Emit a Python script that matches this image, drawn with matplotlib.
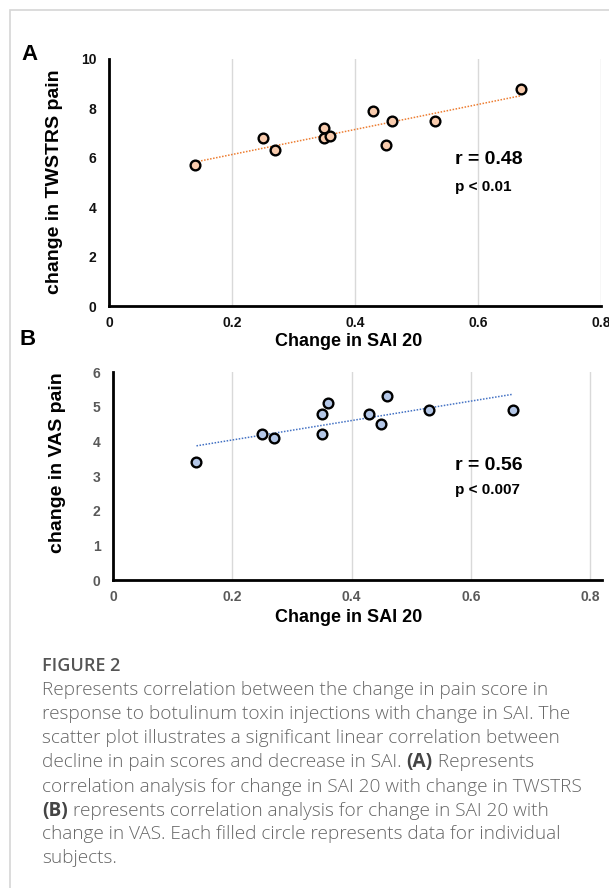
import numpy as np
import matplotlib.pyplot as plt
from matplotlib.patches import Rectangle

# data
sai_change = np.array([0.14, 0.25, 0.27, 0.35, 0.35, 0.36, 0.43, 0.45, 0.46, 0.53, 0.67])
twstrs_change = np.array([5.7, 6.8, 6.3, 7.2, 6.8, 6.9, 7.9, 6.5, 7.5, 7.5, 8.8])
vas_change = np.array([3.4, 4.2, 4.1, 4.2, 4.8, 5.1, 4.8, 4.5, 5.3, 4.9, 4.9])
x_ticks = [0, 0.2, 0.4, 0.6, 0.8]
x_ticklabels = ['0', '0.2', '0.4', '0.6', '0.8']
twstrs_ticks = [0, 2, 4, 6, 8, 10]
vas_ticks = [0, 1, 2, 3, 4, 5, 6]

W, H = 609, 888
def fx(px): return px / W
def fy(py): return 1 - py / H

plt.rcParams['font.family'] = ['Liberation Sans', 'DejaVu Sans']
fig = plt.figure(figsize=(W / 100, H / 100), dpi=100)

# light frame around the figure panel
fig.add_artist(Rectangle((fx(10), fy(H + 20)), 1.2, fy(10) - fy(H + 20), transform=fig.transFigure,
                         fill=False, edgecolor='#d6d6d6', linewidth=1.2))

axA = fig.add_axes([fx(109), fy(306), 492 / W, 247 / H])
axB = fig.add_axes([fx(113), fy(580), 489 / W, 208 / H])

def style(ax, yt, ylim, xlim, tick_col):
    ax.set_xlim(*xlim)
    ax.set_ylim(*ylim)
    ax.set_xticks(x_ticks)
    ax.set_xticklabels(x_ticklabels)
    ax.set_yticks(yt)
    for s in ['top', 'right']:
        ax.spines[s].set_visible(False)
    for s in ['left', 'bottom']:
        ax.spines[s].set_linewidth(2.0)
        ax.spines[s].set_color('black')
        ax.spines[s].set_zorder(5)
    ax.tick_params(length=0, labelsize=10, labelcolor=tick_col)
    ax.tick_params(axis='y', pad=9)
    ax.tick_params(axis='x', pad=7)
    for lab in ax.get_xticklabels() + ax.get_yticklabels():
        lab.set_fontweight('bold')
    ax.grid(True, axis='x', color='#d9d9d9', linewidth=1.0)
    ax.set_axisbelow(True)

style(axA, twstrs_ticks, (0, 10), (0, 0.8), '#111111')
style(axB, vas_ticks, (0, 6), (0, 0.82), '#595959')

# scatter + linear trendline
for ax, y, face, line_col in [(axA, twstrs_change, '#F8CBAD', '#ED7D31'),
                              (axB, vas_change, '#B4C7E7', '#4472C4')]:
    coef = np.polyfit(sai_change, y, 1)
    xs = np.array([sai_change.min(), sai_change.max()])
    ax.plot(xs, np.polyval(coef, xs), color=line_col, linewidth=1.1, linestyle=(0, (1, 1)), zorder=2)
    ax.plot(sai_change, y, 'o', markersize=7, markerfacecolor=face, markeredgecolor='black',
            markeredgewidth=1.7, zorder=3, clip_on=False)

# axis titles
fig.text(fx(55), fy(182), 'change in TWSTRS pain', rotation=90, ha='center', va='center',
         fontsize=14, fontweight='bold')
fig.text(fx(57), fy(463), 'change in VAS pain', rotation=90, ha='center', va='center',
         fontsize=14, fontweight='bold')
fig.text(fx(349), fy(341), 'Change in SAI 20', ha='center', va='center', fontsize=13, fontweight='bold')
fig.text(fx(349), fy(618), 'Change in SAI 20', ha='center', va='center', fontsize=13, fontweight='bold')

# panel letters
fig.text(fx(30), fy(55), 'A', ha='center', va='center', fontsize=16, fontweight='bold')
fig.text(fx(28), fy(339), 'B', ha='center', va='center', fontsize=16, fontweight='bold')

# stats
fig.text(fx(455), fy(160), 'r = 0.48', ha='left', va='center', fontsize=14, fontweight='bold')
fig.text(fx(455), fy(187), 'p < 0.01', ha='left', va='center', fontsize=11, fontweight='bold')
fig.text(fx(455), fy(465), 'r = 0.56', ha='left', va='center', fontsize=14, fontweight='bold')
fig.text(fx(455), fy(490), 'p < 0.007', ha='left', va='center', fontsize=11, fontweight='bold')

# caption
cap_font = ['Open Sans', 'DejaVu Sans']
fig.text(fx(42), fy(666), 'FIGURE 2', ha='left', va='center', fontsize=13, color='#555555',
         family=cap_font, fontweight='semibold')

caption = [
    [('Represents correlation between the change in pain score in', 'normal')],
    [('response to botulinum toxin injections with change in SAI. The', 'normal')],
    [('scatter plot illustrates a significant linear correlation between', 'normal')],
    [('decline in pain scores and decrease in SAI. ', 'normal'), ('(A)', 'bold'), (' Represents', 'normal')],
    [('correlation analysis for change in SAI 20 with change in TWSTRS', 'normal')],
    [('(B)', 'bold'), (' represents correlation analysis for change in SAI 20 with', 'normal')],
    [('change in VAS. Each filled circle represents data for individual', 'normal')],
    [('subjects.', 'normal')],
]
line_y = [690, 714, 738, 762, 787, 811, 834, 858]

renderer = fig.canvas.get_renderer()
for parts, ly in zip(caption, line_y):
    x0 = 42
    for txt, wt in parts:
        t = fig.text(fx(x0), fy(ly), txt, ha='left', va='center', fontsize=13.7,
                     color='#666666' if wt == 'normal' else '#444444',
                     family=cap_font, fontweight='light' if wt == 'normal' else 'bold')
        x0 += t.get_window_extent(renderer).width

fig.savefig('out.png', dpi=100)
